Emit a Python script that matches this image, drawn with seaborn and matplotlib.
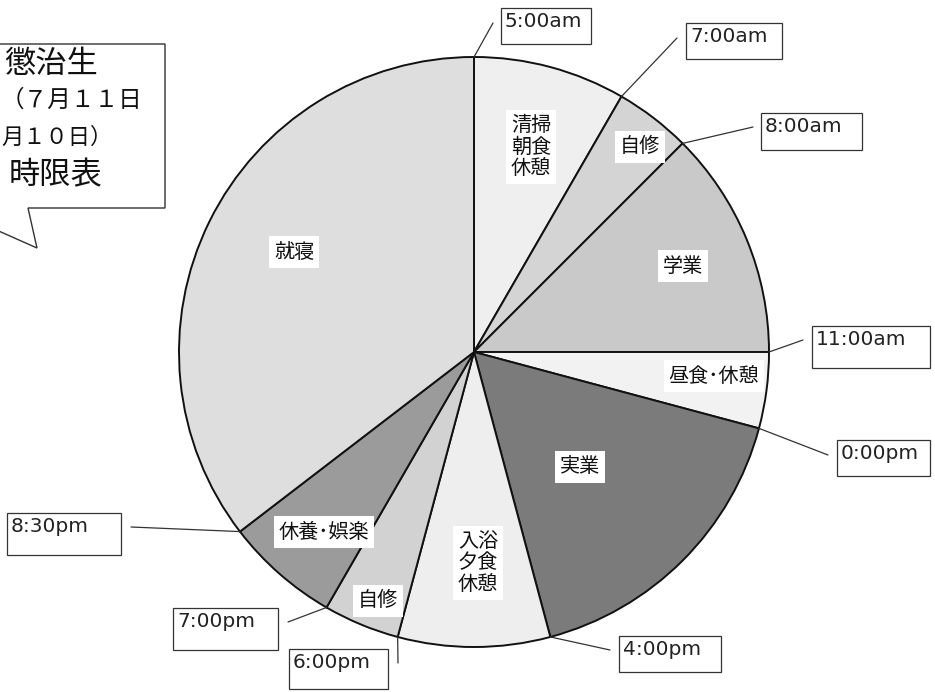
import matplotlib
matplotlib.use("Agg")
import matplotlib.pyplot as plt
from matplotlib.patches import Rectangle, Polygon
import numpy as np
import seaborn as sns

sns.set_theme(style="white")
plt.rcParams["font.family"] = ["Noto Sans CJK JP", "DejaVu Sans"]

# Daily schedule, starting at 5:00am and running clockwise
activities = ["清掃\n朝食\n休憩", "自修", "学業", "昼食･休憩", "実業",
              "入浴\n夕食\n休憩", "自修", "休養･娯楽", "就寝"]
hours = [2, 1, 3, 1, 4, 2, 1, 1.5, 8.5]
colors = ["#efefef", "#d4d4d4", "#c9c9c9", "#f2f2f2", "#7b7b7b",
          "#eeeeee", "#d2d2d2", "#9b9b9b", "#dedede"]
boundary_labels = ["5:00am", "7:00am", "8:00am", "11:00am", "0:00pm",
                   "4:00pm", "6:00pm", "7:00pm", "8:30pm"]
callout_lines = ["懲治生", "（７月１１日", "月１０日）", "時限表"]

W, H = 935, 692
fig = plt.figure(figsize=(W / 100, H / 100), dpi=100)
ax = fig.add_axes([0, 0, 1, 1])


def Y(py):
    return H - py


cx, cy, R = 474, Y(352), 295

ax.pie(hours, colors=colors, startangle=90, counterclock=False,
       center=(cx, cy), radius=R,
       wedgeprops=dict(edgecolor="#111111", linewidth=1.4))
ax.set_xlim(0, W)
ax.set_ylim(0, H)
ax.set_aspect("equal")
ax.axis("off")

# wedge labels (pixel positions of the label centres)
label_pos = [(531, 147), (640, 147), (683, 266), (714, 376), (580, 467),
             (478, 563), (378, 601), (324, 532), (294, 252)]
for text, (px, py) in zip(activities, label_pos):
    ax.text(px, Y(py), text, ha="center", va="center", fontsize=14.5,
            color="#111111", linespacing=1.05,
            bbox=dict(boxstyle="square,pad=0.25", fc="white", ec="none"))

# boundary time boxes: box rectangle (x0, y0, x1, y1) and leader end point
boxes = [(501, 8, 591, 44), (686, 23, 782, 59), (761, 113, 862, 150),
         (812, 326, 930, 368), (837, 440, 930, 476), (619, 636, 721, 672),
         (289, 649, 388, 689), (173, 608, 278, 650), (7, 513, 121, 555)]
leader_ends = [(493, 23), (677, 38), (753, 127), (803, 340), (828, 455),
               (610, 650), (398, 663), (288, 622), (131, 527)]

cum = np.concatenate([[0], np.cumsum(hours)[:-1]])
for start, lab, (x0, y0, x1, y1), (ex, ey) in zip(cum, boundary_labels, boxes, leader_ends):
    ang = np.deg2rad(90 - start / 24 * 360)
    px, py = cx + R * np.cos(ang), cy + R * np.sin(ang)
    ax.plot([px, ex], [py, Y(ey)], color="#333333", lw=0.9)
    ax.add_patch(Rectangle((x0, Y(y1)), x1 - x0, y1 - y0, fill=False,
                           ec="#333333", lw=0.9))
    ax.text(x0 + 4, Y(y0 + 4), lab, ha="left", va="top", fontsize=14.5,
            color="#222222", family=["DejaVu Sans"])

# speech-bubble title in the upper left
bubble = [(-60, Y(44)), (165, Y(44)), (165, Y(208)), (28, Y(208)),
          (37, Y(248)), (-60, Y(205))]
ax.add_patch(Polygon(bubble, closed=True, fc="white", ec="#333333", lw=1.0,
                     clip_on=True))
title_spec = [(4, 64, 22.5), (1, 100, 17), (1, 137, 16), (9, 175, 22.5)]
for line, (tx, ty, fs) in zip(callout_lines, title_spec):
    ax.text(tx, Y(ty), line, ha="left", va="center", fontsize=fs,
            color="#111111")

fig.savefig("out.png", dpi=100)
